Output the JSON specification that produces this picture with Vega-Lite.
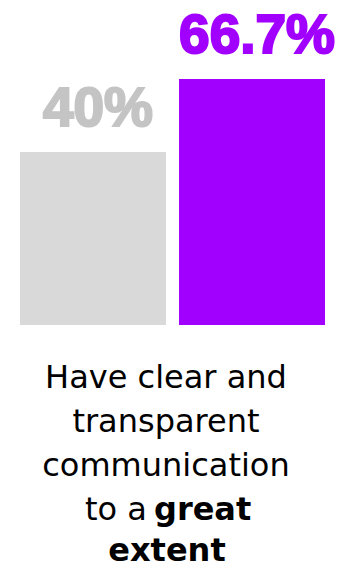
{
  "$schema": "https://vega.github.io/schema/vega-lite/v6.json",
  "width": 342,
  "height": 570,
  "padding": 0,
  "autosize": "none",
  "background": "white",
  "config": {"view": {"stroke": null}},
  "data": {"values": [
    {"group": "Others", "share": 0.4},
    {"group": "Leaders", "share": 0.667}
  ]},
  "encoding": {
    "x": {"field": "group", "type": "nominal", "sort": null, "axis": null,
          "scale": {"range": [20, 325], "paddingInner": 0.082, "paddingOuter": 0}}
  },
  "layer": [
    {
      "mark": {"type": "bar"},
      "encoding": {
        "y": {"field": "share", "type": "quantitative", "axis": null,
              "scale": {"domain": [-0.233, 0.667], "range": [325, 79], "zero": false, "nice": false}},
        "y2": {"datum": -0.233},
        "color": {"field": "group", "type": "nominal", "legend": null, "sort": null,
                  "scale": {"domain": ["Others", "Leaders"], "range": ["#d9d9d9", "#a100ff"]}}
      }
    },
    {
      "mark": {"type": "text", "font": "Liberation Sans", "fontWeight": "bold", "fontSize": 55,
               "baseline": "alphabetic", "align": "center", "dy": -26, "dx": 5, "strokeWidth": 2.2},
      "encoding": {
        "y": {"field": "share", "type": "quantitative"},
        "text": {"field": "share", "type": "quantitative", "format": ".1~%"},
        "color": {"field": "group", "type": "nominal", "legend": null, "sort": null,
                  "scale": {"domain": ["Others", "Leaders"], "range": ["#c4c4c4", "#a100ff"]}},
        "stroke": {"field": "group", "type": "nominal", "legend": null, "sort": null,
                  "scale": {"domain": ["Others", "Leaders"], "range": ["#c4c4c4", "#a100ff"]}}
      }
    },
    {
      "data": {"values": [{}]},
      "mark": {"type": "text", "font": "DejaVu Sans", "fontSize": 32, "color": "#000000",
               "align": "center", "baseline": "alphabetic", "lineHeight": 44, "dy": 63,
               "text": ["Have clear and", "transparent", "communication"]},
      "encoding": {
        "x": {"datum": "Others", "bandPosition": 1},
        "y": {"datum": -0.233}
      }
    },
    {
      "data": {"values": [{}]},
      "mark": {"type": "text", "font": "DejaVu Sans", "fontSize": 32, "color": "#000000",
               "align": "right", "baseline": "alphabetic", "dy": 195, "dx": -19,
               "text": "to a"},
      "encoding": {
        "x": {"datum": "Others", "bandPosition": 1},
        "y": {"datum": -0.233}
      }
    },
    {
      "data": {"values": [{}]},
      "mark": {"type": "text", "font": "DejaVu Sans", "fontWeight": "bold", "fontSize": 32, "color": "#000000",
               "align": "left", "baseline": "alphabetic", "dy": 195, "dx": -12,
               "text": "great"},
      "encoding": {
        "x": {"datum": "Others", "bandPosition": 1},
        "y": {"datum": -0.233}
      }
    },
    {
      "data": {"values": [{}]},
      "mark": {"type": "text", "font": "DejaVu Sans", "fontWeight": "bold", "fontSize": 32, "color": "#000000",
               "align": "center", "baseline": "alphabetic", "dy": 236, "dx": 1,
               "text": "extent"},
      "encoding": {
        "x": {"datum": "Others", "bandPosition": 1},
        "y": {"datum": -0.233}
      }
    }
  ],
  "resolve": {"scale": {"color": "independent", "stroke": "independent"}}
}
